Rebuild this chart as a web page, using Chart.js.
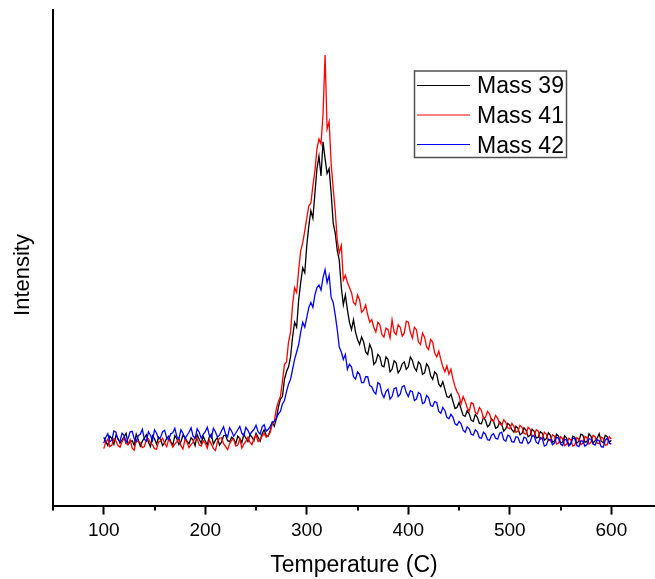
<!DOCTYPE html>
<html>
<head>
<meta charset="utf-8">
<title>Mass spectra vs temperature</title>
<script src="https://cdn.jsdelivr.net/npm/chart.js@4.4.1/dist/chart.umd.min.js"></script>
<style>
  html, body { margin: 0; padding: 0; background: #fff; }
  #wrap { width: 655px; height: 579px; }
</style>
</head>
<body>
<div id="wrap"><canvas id="massChart" width="655" height="579"></canvas></div>
<script>
// temperature (C) of each reading, every 2 degrees
const temps = [
  100, 102, 104, 106, 108, 110, 112, 114, 116, 118, 120, 122, 124, 126, 128, 130, 132, 134, 136, 138,
  140, 142, 144, 146, 148, 150, 152, 154, 156, 158, 160, 162, 164, 166, 168, 170, 172, 174, 176, 178,
  180, 182, 184, 186, 188, 190, 192, 194, 196, 198, 200, 202, 204, 206, 208, 210, 212, 214, 216, 218,
  220, 222, 224, 226, 228, 230, 232, 234, 236, 238, 240, 242, 244, 246, 248, 250, 252, 254, 256, 258,
  260, 262, 264, 266, 268, 270, 272, 274, 276, 278, 280, 282, 284, 286, 288, 290, 292, 294, 296, 298,
  300, 302, 304, 306, 308, 310, 312, 314, 316, 318, 320, 322, 324, 326, 328, 330, 332, 334, 336, 338,
  340, 342, 344, 346, 348, 350, 352, 354, 356, 358, 360, 362, 364, 366, 368, 370, 372, 374, 376, 378,
  380, 382, 384, 386, 388, 390, 392, 394, 396, 398, 400, 402, 404, 406, 408, 410, 412, 414, 416, 418,
  420, 422, 424, 426, 428, 430, 432, 434, 436, 438, 440, 442, 444, 446, 448, 450, 452, 454, 456, 458,
  460, 462, 464, 466, 468, 470, 472, 474, 476, 478, 480, 482, 484, 486, 488, 490, 492, 494, 496, 498,
  500, 502, 504, 506, 508, 510, 512, 514, 516, 518, 520, 522, 524, 526, 528, 530, 532, 534, 536, 538,
  540, 542, 544, 546, 548, 550, 552, 554, 556, 558, 560, 562, 564, 566, 568, 570, 572, 574, 576, 578,
  580, 582, 584, 586, 588, 590, 592, 594, 596, 598, 600
];

const mass39 = [
  13.8, 12.9, 12.1, 14.0, 13.5, 12.4, 14.2, 13.6, 12.6, 13.2,
  13.9, 14.6, 12.3, 12.9, 13.1, 12.2, 14.4, 13.3, 12.0, 13.0,
  13.6, 14.3, 12.8, 11.9, 14.1, 13.5, 12.4, 13.8, 13.3, 12.1,
  12.7, 13.6, 14.0, 12.9, 12.2, 14.1, 13.5, 12.3, 12.9, 14.2,
  13.8, 13.0, 12.5, 13.7, 13.2, 12.1, 14.3, 13.4, 12.6, 14.0,
  13.0, 12.3, 13.9, 14.4, 12.4, 13.2, 13.7, 12.2, 12.8, 14.1,
  14.2, 13.1, 12.9, 13.8, 13.4, 12.5, 14.0, 13.5, 12.7, 14.4,
  13.6, 12.9, 14.3, 13.8, 13.1, 14.6, 13.8, 13.0, 14.5, 15.3,
  14.2, 14.0, 15.2, 16.8, 16.0, 17.5, 19.8, 21.5, 22.0, 25.5,
  27.0, 28.0, 30.0, 34.0, 37.0, 36.0, 41.5, 45.0, 48.0, 47.0,
  52.5, 56.5, 59.5, 58.0, 63.0, 68.0, 70.5, 66.5, 73.4, 70.0,
  67.0, 68.0, 63.0, 57.0, 55.0, 51.5, 49.5, 44.0, 40.5, 42.5,
  39.5, 37.0, 35.5, 37.5, 35.0, 33.5, 32.5, 34.0, 33.0, 31.0,
  30.5, 32.5, 31.5, 28.5, 29.0, 30.5, 30.0, 28.2, 28.0, 30.0,
  29.5, 27.0, 27.5, 29.2, 28.8, 26.8, 27.4, 28.6, 29.0, 27.5,
  28.0, 30.0, 29.3, 27.8, 27.2, 29.0, 28.5, 26.5, 26.8, 28.6,
  28.0, 26.2, 25.5, 27.0, 26.5, 24.5, 24.0, 25.0, 23.5, 22.0,
  21.8, 22.5, 21.0, 19.6, 19.8, 20.8, 19.5, 18.2, 18.0, 19.2,
  18.5, 17.2, 17.0, 18.4, 17.8, 16.6, 16.5, 17.8, 17.2, 15.9,
  16.3, 17.5, 17.0, 15.6, 15.8, 16.9, 16.4, 15.0, 15.5, 16.6,
  16.2, 15.3, 14.8, 16.0, 15.6, 14.3, 14.6, 15.7, 15.2, 13.9,
  14.2, 15.4, 15.0, 13.6, 13.8, 14.9, 14.6, 13.2, 13.5, 14.7,
  14.2, 12.8, 13.0, 14.4, 14.0, 12.6, 12.8, 14.1, 13.6, 12.3,
  12.5, 14.0, 13.8, 12.6, 13.0, 14.4, 14.2, 12.8, 12.9, 14.5,
  14.0, 12.6, 13.1, 13.6, 14.5, 13.0, 12.7, 14.2, 13.9, 12.8,
  13.2
];

const mass41 = [
  11.5, 12.8, 13.4, 11.9, 12.2, 13.5, 13.0, 12.1, 11.8, 12.9,
  13.6, 12.5, 12.4, 13.3, 11.6, 11.2, 13.2, 12.9, 12.7, 11.7,
  11.9, 13.4, 13.5, 12.6, 12.3, 11.5, 11.4, 12.8, 13.1, 13.6,
  12.6, 11.9, 13.4, 12.7, 11.8, 12.4, 12.9, 13.5, 12.1, 11.4,
  13.3, 12.8, 11.7, 12.3, 12.8, 13.9, 13.5, 12.2, 12.0, 13.1,
  12.6, 11.6, 13.2, 12.4, 11.5, 11.1, 12.9, 13.6, 13.7, 12.5,
  11.9, 11.3, 12.5, 13.2, 13.4, 12.0, 12.2, 13.5, 11.6, 12.4,
  13.0, 13.8, 12.8, 12.3, 13.6, 14.2, 12.9, 13.3, 14.0, 14.6,
  13.8, 14.2, 14.8, 16.5, 17.0, 19.5, 21.0, 22.0, 25.0, 28.5,
  29.0, 33.0, 35.0, 40.5, 44.0, 43.0, 47.5, 51.5, 53.0, 55.5,
  58.0, 60.5, 61.0, 64.5, 67.5, 72.0, 74.0, 73.0, 79.0, 90.9,
  76.0, 77.5, 69.0, 64.0, 59.5, 53.5, 51.0, 52.5, 45.5, 46.5,
  45.0, 44.0, 43.0, 41.0, 40.5, 42.5, 41.5, 39.0, 39.5, 40.5,
  38.5, 37.0, 37.5, 36.0, 35.0, 37.0, 36.5, 34.5, 34.0, 35.8,
  35.5, 33.8, 37.5, 35.0, 34.5, 36.5, 36.0, 34.2, 34.8, 37.2,
  37.0, 35.0, 33.8, 36.0, 35.5, 33.0, 32.5, 34.8, 34.0, 32.0,
  31.5, 33.5, 33.0, 30.8, 30.0, 31.2, 29.5, 28.0, 27.0, 28.2,
  26.5, 27.5, 25.5, 24.0, 23.0, 22.2, 20.5, 22.0, 21.0, 19.8,
  19.0, 20.8, 20.5, 18.8, 18.5, 19.8, 19.2, 17.6, 17.8, 19.0,
  18.5, 17.2, 17.0, 18.2, 17.6, 16.5, 16.2, 17.3, 16.8, 15.7,
  15.5, 16.6, 16.0, 14.8, 15.0, 16.2, 15.8, 14.6, 14.4, 15.8,
  15.4, 14.0, 14.2, 15.3, 15.0, 13.4, 13.6, 14.8, 14.4, 13.1,
  13.2, 14.3, 14.0, 12.4, 12.6, 13.9, 13.5, 12.1, 12.4, 13.6,
  13.3, 12.0, 12.2, 13.7, 13.4, 12.3, 12.6, 14.0, 13.7, 12.4,
  12.8, 14.2, 13.9, 12.6, 12.5, 13.8, 13.6, 12.2, 12.3, 13.9,
  13.4
];

const mass42 = [
  12.6, 13.8, 14.5, 12.9, 13.2, 15.1, 14.8, 13.3, 13.0, 14.6,
  14.2, 12.8, 13.6, 14.9, 15.0, 13.5, 12.9, 14.1, 14.4, 15.4,
  13.4, 13.0, 14.9, 14.2, 13.1, 15.3, 14.6, 13.5, 13.8, 14.9,
  15.2, 13.6, 13.3, 14.5, 14.7, 15.6, 13.9, 13.4, 15.3, 14.6,
  13.5, 14.2, 14.8, 15.7, 14.0, 13.6, 15.5, 14.8, 13.6, 14.4,
  14.9, 15.8, 14.2, 13.7, 15.6, 14.9, 13.8, 14.2, 15.1, 15.9,
  14.4, 13.9, 15.7, 15.0, 14.0, 14.6, 15.3, 16.0, 14.6, 14.1,
  15.8, 15.2, 14.3, 14.9, 15.4, 16.2, 14.9, 14.4, 15.9, 16.3,
  15.0, 15.4, 16.0, 16.8, 17.0, 17.6, 18.5, 19.0, 20.5, 21.2,
  23.0, 24.5, 25.5, 27.5, 29.5, 31.0, 32.5, 35.0, 37.0, 36.0,
  38.0, 40.0, 41.0, 40.0, 42.5, 44.0, 44.5, 43.5, 46.0, 47.6,
  45.0, 46.5, 42.0, 41.0, 38.5, 35.5, 32.0, 31.0, 29.5, 30.5,
  27.5, 28.5, 28.0, 26.0, 25.5, 27.0, 26.5, 24.8, 24.8, 26.0,
  26.0, 24.2, 24.0, 23.0, 22.5, 24.8, 24.5, 22.6, 21.8, 23.0,
  23.5, 21.5, 22.0, 23.6, 23.8, 22.0, 22.5, 24.0, 24.2, 22.8,
  22.0, 23.2, 23.0, 21.2, 21.5, 22.8, 22.5, 20.6, 20.8, 22.2,
  21.8, 20.2, 20.0, 21.0, 20.8, 19.0, 18.6, 19.8, 19.2, 17.8,
  17.5, 18.4, 17.8, 16.5, 16.2, 17.0, 16.5, 15.2, 14.8, 15.9,
  15.5, 14.4, 14.2, 15.3, 14.9, 13.7, 13.6, 14.8, 14.4, 13.3,
  13.2, 14.2, 14.5, 13.6, 13.4, 14.6, 14.8, 13.3, 13.0, 14.2,
  14.0, 12.9, 12.8, 13.9, 13.8, 12.7, 12.6, 13.8, 13.6, 12.5,
  12.9, 14.1, 14.0, 12.8, 12.5, 13.7, 13.5, 12.0, 12.2, 13.4,
  13.3, 12.3, 12.6, 13.8, 13.6, 12.4, 12.1, 13.4, 13.2, 12.0,
  12.4, 13.6, 13.5, 12.1, 11.9, 13.1, 13.0, 12.0, 12.3, 13.5,
  13.4, 12.4, 12.2, 13.3, 13.1, 11.9, 11.8, 13.2, 13.6, 12.6,
  12.4
];

const seriesLabels = ["Mass 39", "Mass 41", "Mass 42"];
const majorTicks = [100, 200, 300, 400, 500, 600];
const minorTicks = [50, 150, 250, 350, 450, 550];

const lineColors = ["#000000", "#ff0000", "#0000ff"];
const fontFamily = "Arial, 'Liberation Sans', sans-serif";

function toPoints(values) {
  return temps.map((t, i) => ({ x: t, y: values[i] }));
}

// short ticks half way between the labelled ones
const minorTickPlugin = {
  id: "minorTicks",
  afterDraw(chart) {
    const xs = chart.scales.x;
    const c = chart.ctx;
    c.save();
    c.strokeStyle = "#000";
    c.lineWidth = 2;
    minorTicks.forEach(v => {
      if (v < xs.min || v > xs.max) return;
      const px = Math.round(xs.getPixelForValue(v));
      c.beginPath();
      c.moveTo(px, xs.top);
      c.lineTo(px, xs.top + 5);
      c.stroke();
    });
    c.restore();
  }
};

// y title sits a bit below the middle in the original
const yTitlePlugin = {
  id: "yTitle",
  afterDraw(chart) {
    const c = chart.ctx;
    c.save();
    c.translate(29, 275);
    c.rotate(-Math.PI / 2);
    c.font = "22px " + fontFamily;
    c.fillStyle = "#000";
    c.textAlign = "center";
    c.textBaseline = "alphabetic";
    c.fillText("Intensity", 0, 0);
    c.restore();
  }
};

// boxed legend in the upper right
const boxLegendPlugin = {
  id: "boxLegend",
  afterDraw(chart) {
    const c = chart.ctx;
    c.save();
    c.strokeStyle = "#505050";
    c.lineWidth = 1.5;
    c.strokeRect(414.5, 71, 152, 86.5);
    c.font = "23px " + fontFamily;
    c.textBaseline = "alphabetic";
    c.textAlign = "left";
    chart.data.datasets.forEach((ds, i) => {
      const lineY = 85 + i * 29.5;
      c.strokeStyle = ds.borderColor;
      c.lineWidth = 1;
      c.beginPath();
      c.moveTo(417, lineY + 0.5);
      c.lineTo(470, lineY + 0.5);
      c.stroke();
      c.fillStyle = "#000";
      c.fillText(ds.label, 477, 92.5 + i * 30);
    });
    c.restore();
  }
};

const massChart = new Chart(document.getElementById("massChart").getContext("2d"), {
  type: "line",
  data: {
    datasets: [
      { label: seriesLabels[0], data: toPoints(mass39), borderColor: lineColors[0], order: 3 },
      { label: seriesLabels[1], data: toPoints(mass41), borderColor: lineColors[1], order: 2 },
      { label: seriesLabels[2], data: toPoints(mass42), borderColor: lineColors[2], order: 1 }
    ]
  },
  options: {
    responsive: false,
    animation: false,
    devicePixelRatio: 1,
    layout: { padding: { top: 10, right: 0, bottom: 0, left: 53 } },
    elements: {
      line: { borderWidth: 1.3, tension: 0 },
      point: { radius: 0 }
    },
    plugins: {
      legend: { display: false },
      tooltip: { enabled: false }
    },
    scales: {
      x: {
        type: "linear",
        min: 50,
        max: 643,
        afterBuildTicks: scale => {
          scale.ticks = majorTicks.map(v => ({ value: v }));
        },
        grid: {
          drawOnChartArea: false,
          drawTicks: true,
          tickLength: 9,
          tickWidth: 2,
          tickColor: "#000"
        },
        border: { display: true, color: "#000", width: 2 },
        ticks: {
          color: "#000",
          padding: 5,
          maxRotation: 0,
          font: { family: fontFamily, size: 19 }
        },
        title: {
          display: true,
          text: "Temperature (C)",
          color: "#000",
          padding: { top: 4, bottom: 0 },
          font: { family: fontFamily, size: 23 }
        }
      },
      y: {
        min: 0,
        max: 100,
        grid: { display: false, drawTicks: false },
        border: { display: true, color: "#000", width: 2 },
        ticks: { display: false },
        title: { display: false }
      }
    }
  },
  plugins: [minorTickPlugin, yTitlePlugin, boxLegendPlugin]
});
</script>
</body>
</html>
